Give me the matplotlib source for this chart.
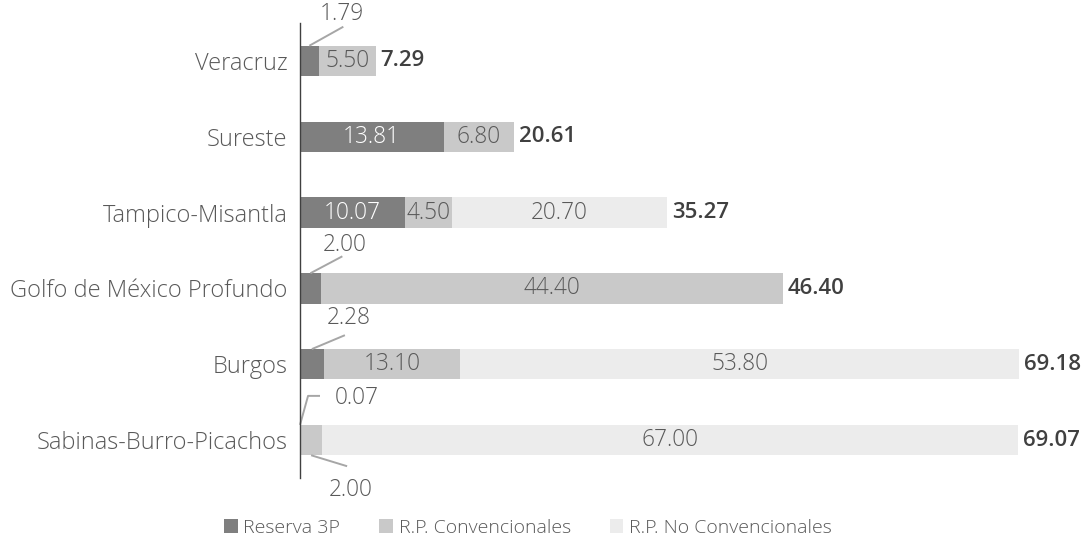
import matplotlib.pyplot as plt
import matplotlib.transforms as mtransforms
import numpy as np

plt.rcParams['font.family'] = ['Open Sans', 'DejaVu Sans']

regions = ["Veracruz", "Sureste", "Tampico-Misantla", "Golfo de México Profundo",
           "Burgos", "Sabinas-Burro-Picachos"]
reserva_3p = [1.79, 13.81, 10.07, 2.00, 2.28, 0.07]
rp_conv = [5.50, 6.80, 4.50, 44.40, 13.10, 2.00]
rp_noconv = [0.0, 0.0, 20.70, 0.0, 53.80, 67.00]
totals = [7.29, 20.61, 35.27, 46.40, 69.18, 69.07]
series_names = ["Reserva 3P", "R.P. Convencionales", "R.P. No Convencionales"]

colors = ["#7f7f7f", "#c9c9c9", "#ececec"]
inner_text = ["white", "#595959", "#595959"]
label_color = "#595959"
total_color = "#404040"
leader_color = "#a6a6a6"

fig = plt.figure(figsize=(10.84, 5.47), dpi=100)
ax = fig.add_axes([300 / 1084, 1 - 478 / 547, 780 / 1084, 455 / 547])

y = np.arange(len(regions))
h = 0.4
series = [reserva_3p, rp_conv, rp_noconv]
left = np.zeros(len(regions))
bars = []
for vals, c, name in zip(series, colors, series_names):
    b = ax.barh(y, vals, left=left, height=h, color=c, label=name)
    bars.append(b)
    left = left + np.array(vals)

ax.set_ylim(len(regions) - 0.5, -0.5)
ax.set_xlim(0, 75)

fs_in = 16.3
fs_tick = 17
fs_total = 16
fs_leg = 14
W_IN = 'light'


def anchored(x, yv):
    """Transform whose coordinates are offsets in points from a data point."""
    return (mtransforms.Affine2D().scale(1 / 72) + fig.dpi_scale_trans
            + mtransforms.ScaledTranslation(x, yv, ax.transData))


# leader lines for segments too thin to hold their label:
# (row, series) -> (anchor side, line vertices in points, text centre in points, ha)
leaders = {
    (0, 0): ('top', [(0, 0), (24.5, 13.7)], (23.5, 23.0), 'center'),
    (3, 0): ('top', [(0, 0), (23.0, 12.2)], (25.0, 20.5), 'center'),
    (4, 0): ('top', [(0, 0), (23.8, 10.0)], (26.6, 22.5), 'center'),
    (5, 0): ('top', [(0, 0), (5.8, 20.9), (14.4, 20.9)], (25.2, 19.4), 'left'),
    (5, 1): ('bottom', [(0, 0), (25.9, -7.9)], (28.8, -25.0), 'center'),
}

for si, vals in enumerate(series):
    for ri, v in enumerate(vals):
        if v <= 0:
            continue
        s = sum(series[k][ri] for k in range(si))
        if (ri, si) in leaders:
            side, verts, (tx, ty), ha = leaders[(ri, si)]
            ay = ri - h / 2 if side == 'top' else ri + h / 2
            ax_x = s + v / 2 if si > 0 or v > 0.5 else s
            tr = anchored(ax_x, ay)
            xs, ys = zip(*verts)
            ax.plot(xs, ys, color=leader_color, lw=1.4, transform=tr,
                    solid_capstyle='butt', clip_on=False)
            ax.text(tx, ty, f"{v:.2f}", transform=tr, ha=ha, va='center',
                    fontsize=fs_in, fontweight=W_IN, color=label_color)
        else:
            ax.text(s + v / 2, ri, f"{v:.2f}", ha='center', va='center',
                    fontsize=fs_in, fontweight=W_IN, color=inner_text[si])

for ri, t in enumerate(totals):
    ax.annotate(f"{t:.2f}", xy=(t, ri), xytext=(3.5, 0), textcoords='offset points',
                ha='left', va='center', fontsize=fs_total, fontweight='semibold',
                color=total_color)

ax.set_yticks(y)
ax.set_yticklabels(regions, fontsize=fs_tick, fontweight=W_IN, color=label_color)
ax.tick_params(axis='y', length=0, pad=9)
ax.set_xticks([])
for side in ['top', 'right', 'bottom']:
    ax.spines[side].set_visible(False)
ax.spines['left'].set_color('#404040')
ax.spines['left'].set_linewidth(1.0)

leg = fig.legend(handles=bars, labels=series_names, loc='center', ncol=3,
                 bbox_to_anchor=(0.487, 1 - 528 / 547), frameon=False,
                 prop={'size': fs_leg, 'weight': W_IN}, labelcolor=label_color,
                 handlelength=0.7, handleheight=0.7, handletextpad=0.3,
                 columnspacing=2.0)

fig.savefig("out.png", dpi=100)
